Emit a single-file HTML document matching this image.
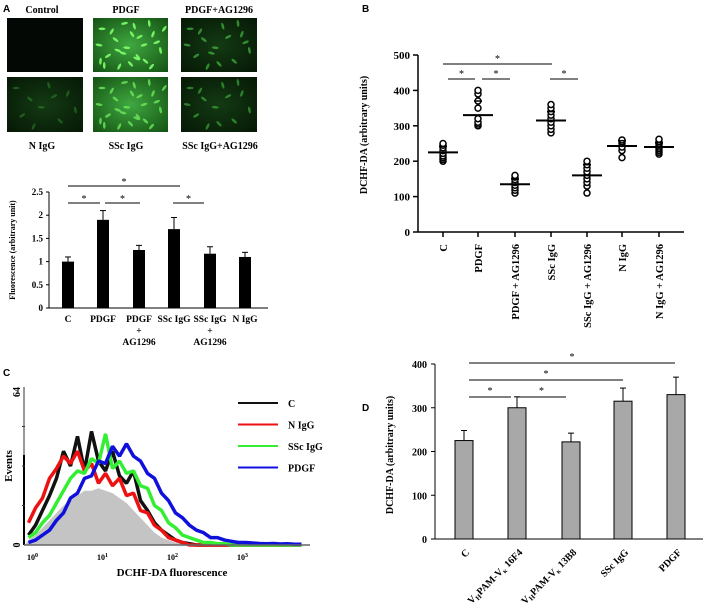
<!DOCTYPE html>
<html><head><meta charset="utf-8">
<style>
body{margin:0;background:#fff;}
svg{display:block;font-family:"Liberation Serif",serif;}
.b{font-weight:bold;}
</style></head>
<body>
<svg id="fig" width="708" height="612" viewBox="0 0 708 612" xmlns="http://www.w3.org/2000/svg">
<defs>
<radialGradient id="gBright" cx="50%" cy="50%" r="70%"><stop offset="0" stop-color="#3fa83f"/><stop offset="1" stop-color="#145214"/></radialGradient>
<radialGradient id="gDim" cx="50%" cy="50%" r="70%"><stop offset="0" stop-color="#133a13"/><stop offset="1" stop-color="#061806"/></radialGradient>
</defs>
<g>
<text x="3" y="12" font-family="Liberation Sans,sans-serif" font-weight="bold" font-size="10">A</text>
<text x="42" y="13" text-anchor="middle" class="b" font-size="10">Control</text>
<text x="126" y="13" text-anchor="middle" class="b" font-size="10">PDGF</text>
<text x="219" y="13" text-anchor="middle" class="b" font-size="10">PDGF+AG1296</text>
<rect x="7" y="18" width="76" height="54" fill="#040804"/>
<rect x="93" y="18" width="75" height="54" fill="url(#gBright)"/>
<rect x="181" y="18" width="76" height="54" fill="url(#gDim)"/>
<rect x="7" y="77" width="76" height="55" fill="url(#gDim)"/>
<rect x="93" y="77" width="75" height="55" fill="url(#gBright)"/>
<rect x="181" y="77" width="76" height="55" fill="url(#gDim)"/>
<g id="cells"></g>
<text x="42" y="149" text-anchor="middle" class="b" font-size="10">N IgG</text>
<text x="126" y="149" text-anchor="middle" class="b" font-size="10">SSc IgG</text>
<text x="220" y="149" text-anchor="middle" class="b" font-size="10">SSc IgG+AG1296</text>
</g>
<g id="panelA"></g>
<g id="panelB"></g>
<g id="panelC"></g>
<g id="panelD"></g>
</svg>
<script>
// ---------- data ----------
const aCats = ["C","PDGF","PDGF|+|AG1296","SSc IgG","SSc IgG|+|AG1296","N IgG"];
const aMeans = [1.0,1.9,1.25,1.7,1.17,1.1];
const aErr = [0.1,0.2,0.1,0.25,0.15,0.1];
const aTicks = [0,0.5,1,1.5,2,2.5];
const aTickLabels = ["0","0.5","1","1.5","2","2.5"];

const bCats = ["C","PDGF","PDGF + AG1296","SSc IgG","SSc IgG + AG1296","N IgG","N IgG + AG1296"];
const bPoints = [
 [200,205,210,215,222,230,238,245,250],
 [300,305,310,320,350,370,390,400],
 [110,118,125,132,140,148,155,160],
 [280,290,300,310,320,330,340,350,360],
 [110,130,140,150,160,170,180,190,200],
 [210,230,240,250,255,260],
 [220,225,230,235,240,245,250,255,262]];
const bMeans = [225,330,135,315,160,243,240];
const bSD = [17,40,15,25,30,15,12];
const bTicks = [0,100,200,300,400,500];

const dCats = ["C","16F4","13B8","SSc IgG","PDGF"];
const dMeans = [225,300,222,315,330];
const dErr = [23,25,20,30,40];
const dTicks = [0,100,200,300,400];

const cSeriesNames = ["C","N IgG","SSc IgG","PDGF"];
const cGray = [2,4,7,10,13,16,18,20,22,22,23,22,21,19,17,14,11,8,5,3,2,1,0.5,0,0,0,0,0,0,0,0,0,0,0,0,0,0,0,0,0];
const cBlack = [4,8,14,20,27,38,32,44,30,46,34,30,38,28,25,30,18,14,9,6,4,2,1,0.5,0,0,0,0,0,0,0,0,0,0,0,0,0,0,0,0];
const cRed = [9,15,19,27,31,36,33,38,30,33,25,29,24,27,20,21,14,13,8,6,3,2,1,0,0,0,0,0,0,0,0,0,0,0,0,0,0,0,0,0];
const cGreen = [3,5,9,12,17,22,27,30,29,35,33,45,31,34,29,30,24,23,16,14,9,7,4,3,2,1,1,0.5,0.5,0,0,0,0,0,0,0,0,0,0,0];
const cBlue = [1,2,4,6,10,13,19,21,27,28,34,33,40,36,41,36,34,29,27,21,18,13,11,8,6,5,3,3,2,1.5,1,1,0.8,0.6,0.5,0.6,0.4,0.5,0.3,0.3];
const cTickLabels = ["10","10","10","10"];
const cTickExp = ["0","1","2","3"];

const NS="http://www.w3.org/2000/svg";
function mk(parent,tag,attrs,text){const e=document.createElementNS(NS,tag);for(const k in attrs)e.setAttribute(k,attrs[k]);if(text!==undefined)e.textContent=text;parent.appendChild(e);return e;}

(function(){
 const g=document.getElementById('cells');
 const imgs=[[93,18,75,54,"#7dff6a",0.9,26],[93,77,75,55,"#6ee85c",0.8,26],[181,18,76,54,"#4fd14a",0.6,16],[181,77,76,55,"#48c644",0.55,14],[7,77,76,55,"#3aa838",0.4,10]];
 const fx=[0.12,0.3,0.55,0.8,0.2,0.45,0.7,0.9,0.35,0.62,0.08,0.5,0.75,0.25,0.85,0.4,0.6,0.15,0.95,0.68,0.33,0.52,0.1,0.78,0.42,0.58];
 const fy=[0.2,0.4,0.15,0.3,0.7,0.55,0.8,0.6,0.9,0.35,0.5,0.85,0.1,0.25,0.45,0.65,0.72,0.88,0.2,0.5,0.6,0.3,0.8,0.9,0.1,0.75];
 imgs.forEach(im=>{
  for(let i=0;i<im[6];i++){
   const c=mk(g,'ellipse',{cx:im[0]+fx[i]*im[2],cy:im[1]+fy[i]*im[3],rx:3.5,ry:1.3,fill:im[4],opacity:im[5],transform:`rotate(${(i*37)%180} ${im[0]+fx[i]*im[2]} ${im[1]+fy[i]*im[3]})`});
   
   
  }
 });
})();

(function(){
 const g=document.getElementById('panelA');
 const y0=308, ppu=46.4, xs=[68,103,139,174,210,245];
 const Y=v=>y0-v*ppu;
 mk(g,'line',{x1:49,y1:Y(2.5),x2:49,y2:y0,stroke:'#000','stroke-width':1});
 mk(g,'line',{x1:49,y1:y0,x2:268,y2:y0,stroke:'#000','stroke-width':1});
 aTicks.forEach((t,i)=>{mk(g,'line',{x1:46,y1:Y(t),x2:49,y2:Y(t),stroke:'#000'});
  const tl=mk(g,'text',{x:43,y:Y(t)+3,'text-anchor':'end','font-size':9,class:'b'},aTickLabels[i]);
  
  });
 const yt=mk(g,'text',{transform:'translate(15,250) rotate(-90)','text-anchor':'middle','font-size':8,class:'b'},'Fluorescence (arbitrary unit)');
 
 
 aMeans.forEach((m,i)=>{
  const x=xs[i];
  mk(g,'line',{x1:x,y1:Y(m),x2:x,y2:Y(m+aErr[i]),stroke:'#000','stroke-width':1});
  mk(g,'line',{x1:x-3,y1:Y(m+aErr[i]),x2:x+3,y2:Y(m+aErr[i]),stroke:'#000','stroke-width':1});
  const r=mk(g,'rect',{x:x-6,y:Y(m),width:12,height:m*ppu,fill:'#000'});
  
  
  aCats[i].split('|').forEach((s,j)=>{
   const t=mk(g,'text',{x:x,y:322+j*11.5,'text-anchor':'middle','font-size':9.5,class:'b'},s);
   
   
  });
 });
 const sig=[[68,180,186],[68,100,203],[105,140,203],[173,204,203]];
 sig.forEach(s=>{mk(g,'line',{x1:s[0],y1:s[2],x2:s[1],y2:s[2],stroke:'#000'});
  const st=mk(g,'text',{x:(s[0]+s[1])/2,y:s[2]-1,'text-anchor':'middle','font-size':10},'*');
  
  });
})();

(function(){
 const g=document.getElementById('panelB');
 const y0=232, ppu=177/500, xs=[443,478,515,551,587,622,659];
 const Y=v=>y0-v*ppu;
 const lb=mk(g,'text',{x:362,y:12,'font-family':'Liberation Sans,sans-serif','font-weight':'bold','font-size':10},'B');
 
 
 mk(g,'line',{x1:418,y1:Y(500),x2:418,y2:y0,stroke:'#000','stroke-width':1.5});
 mk(g,'line',{x1:418,y1:y0,x2:684,y2:y0,stroke:'#000','stroke-width':1.5});
 bTicks.forEach(t=>{mk(g,'line',{x1:413,y1:Y(t),x2:418,y2:Y(t),stroke:'#000','stroke-width':1.5});
  const tl=mk(g,'text',{x:410,y:Y(t)+4,'text-anchor':'end','font-size':11,class:'b'},String(t));
  
  });
 const yt=mk(g,'text',{transform:'translate(367,135) rotate(-90)','text-anchor':'middle','font-size':10,class:'b'},'DCHF-DA  (arbitrary  units)');
 
 
 bCats.forEach((c,i)=>{
  const x=xs[i];
  mk(g,'line',{x1:x,y1:y0,x2:x,y2:y0+5,stroke:'#000','stroke-width':1.5});
  const t=mk(g,'text',{transform:`translate(${x+4},244) rotate(-90)`,'text-anchor':'end','font-size':10.5,class:'b'},c);
  
  
  bPoints[i].forEach(v=>{const p=mk(g,'circle',{cx:x,cy:Y(v),r:3,fill:'#fff',stroke:'#000','stroke-width':1.5});
   
   });
  const m=mk(g,'line',{x1:x-15,y1:Y(bMeans[i]),x2:x+15,y2:Y(bMeans[i]),stroke:'#000','stroke-width':2});
  
  
  mk(g,'line',{x1:x-4,y1:Y(bMeans[i]+bSD[i]),x2:x+4,y2:Y(bMeans[i]+bSD[i]),stroke:'#000','stroke-width':1.5});
 });
 const sig=[[443,552,64],[448,475,79],[482,510,79],[550,578,79]];
 sig.forEach(s=>{mk(g,'line',{x1:s[0],y1:s[2],x2:s[1],y2:s[2],stroke:'#000'});
  const st=mk(g,'text',{x:(s[0]+s[1])/2,y:s[2]-2,'text-anchor':'middle','font-size':10},'*');
  
  });
})();

(function(){
 const g=document.getElementById('panelC');
 const x0=25, dec=70, y0=545, ppe=158/64, nb=cGray.length, bw=4*dec/nb;
 const X=i=>x0+i*bw+bw/2, Y=v=>y0-v*ppe;
 const lb=mk(g,'text',{x:3,y:376,'font-family':'Liberation Sans,sans-serif','font-weight':'bold','font-size':10},'C');
 
 
 let d=`M${x0},${y0}`;cGray.forEach((v,i)=>d+=` L${X(i)},${Y(v)}`);d+=` L${X(nb-1)},${y0} Z`;
 const fill=mk(g,'path',{d:d,fill:'#c4c4c4',stroke:'none'});
 
 
 const series=[[cBlack,'#111','c-series-c'],[cRed,'#ee1111','c-series-n-igg'],[cGreen,'#33ee33','c-series-ssc-igg'],[cBlue,'#1010dd','c-series-pdgf']];
 series.forEach(s=>{
  let p='';s[0].forEach((v,i)=>p+=(i?' L':'M')+X(i)+','+Y(v));
  const l=mk(g,'path',{d:p,fill:'none',stroke:s[1],'stroke-width':3.5,'stroke-linejoin':'bevel'});
  
  
 });
 mk(g,'line',{x1:24,y1:Y(0),x2:24,y2:Y(64),stroke:'#333','stroke-width':1});
 mk(g,'line',{x1:24,y1:455,x2:24,y2:Y(0),stroke:'#000','stroke-width':2});
 [16,32,48].forEach(t=>mk(g,'line',{x1:22,y1:Y(t),x2:25,y2:Y(t),stroke:'#333'}));
 mk(g,'line',{x1:24,y1:y0,x2:310,y2:y0,stroke:'#666','stroke-width':1.5});
 const t64=mk(g,'text',{transform:`translate(20,${Y(64)+5}) rotate(-90)`,'font-size':10,'text-anchor':'middle',class:'b'},'64');
 
 
 const t0=mk(g,'text',{transform:`translate(20,${y0}) rotate(-90)`,'font-size':10,'text-anchor':'middle',class:'b'},'0');
 
 
 const yt=mk(g,'text',{transform:'translate(12,466) rotate(-90)','text-anchor':'middle','font-size':11,class:'b'},'Events');
 
 
 cTickLabels.forEach((s,i)=>{
  const t=mk(g,'text',{x:x0+i*dec+2,y:560,'font-size':8,class:'b'},s);
  
  
  mk(t,'tspan',{dy:-3,'font-size':6},cTickExp[i]);
 });
 const xt=mk(g,'text',{x:172,y:576,'text-anchor':'middle','font-size':11,class:'b'},'DCHF-DA fluorescence');
 
 
 const cols=['#111','#ee1111','#33ee33','#1010dd'];
 cSeriesNames.forEach((n,i)=>{
  const y=403+i*21.5;
  const ll=mk(g,'line',{x1:238,y1:y,x2:278,y2:y,stroke:cols[i],'stroke-width':2});
  
  
  const lt=mk(g,'text',{x:288,y:y+4,'font-size':10,class:'b'},n);
  
  
 });
})();

(function(){
 const g=document.getElementById('panelD');
 const y0=539, ppu=0.4375, xs=[464,517,571,623,676];
 const Y=v=>y0-v*ppu;
 const lb=mk(g,'text',{x:362,y:411,'font-family':'Liberation Sans,sans-serif','font-weight':'bold','font-size':10},'D');
 
 
 mk(g,'line',{x1:435,y1:Y(400),x2:435,y2:y0,stroke:'#000','stroke-width':1});
 mk(g,'line',{x1:435,y1:y0,x2:703,y2:y0,stroke:'#000','stroke-width':1});
 dTicks.forEach(t=>{mk(g,'line',{x1:431,y1:Y(t),x2:435,y2:Y(t),stroke:'#000'});
  const tl=mk(g,'text',{x:427,y:Y(t)+4,'text-anchor':'end','font-size':10,class:'b'},String(t));
  
  });
 const yt=mk(g,'text',{transform:'translate(393,455) rotate(-90)','text-anchor':'middle','font-size':10,class:'b'},'DCHF-DA  (arbitrary  units)');
 
 
 dMeans.forEach((m,i)=>{
  const x=xs[i];
  mk(g,'line',{x1:x,y1:Y(m),x2:x,y2:Y(m+dErr[i]),stroke:'#000'});
  mk(g,'line',{x1:x-3,y1:Y(m+dErr[i]),x2:x+3,y2:Y(m+dErr[i]),stroke:'#000'});
  const r=mk(g,'rect',{x:x-9,y:Y(m),width:18,height:m*ppu,fill:'#a8a8a8',stroke:'#000','stroke-width':1});
  
  
  const t=mk(g,'text',{transform:`translate(${x+6},553) rotate(-45)`,'text-anchor':'end','font-size':10,class:'b'});
  
  
  if(i===1||i===2){
   t.appendChild(document.createTextNode('V'));
   mk(t,'tspan',{'font-size':7,dy:2},'H');
   mk(t,'tspan',{dy:-2},'PAM-V');
   mk(t,'tspan',{'font-size':7,dy:2},'κ');
   mk(t,'tspan',{dy:-2},' '+dCats[i]);
  } else t.textContent=dCats[i];
 });
 const sig=[[469,675,363],[469,623,380],[469,511,397],[517,566,397]];
 sig.forEach(s=>{mk(g,'line',{x1:s[0],y1:s[2],x2:s[1],y2:s[2],stroke:'#000'});
  const st=mk(g,'text',{x:(s[0]+s[1])/2,y:s[2]-3,'text-anchor':'middle','font-size':10},'*');
  
  });
})();
</script>
</body></html>
